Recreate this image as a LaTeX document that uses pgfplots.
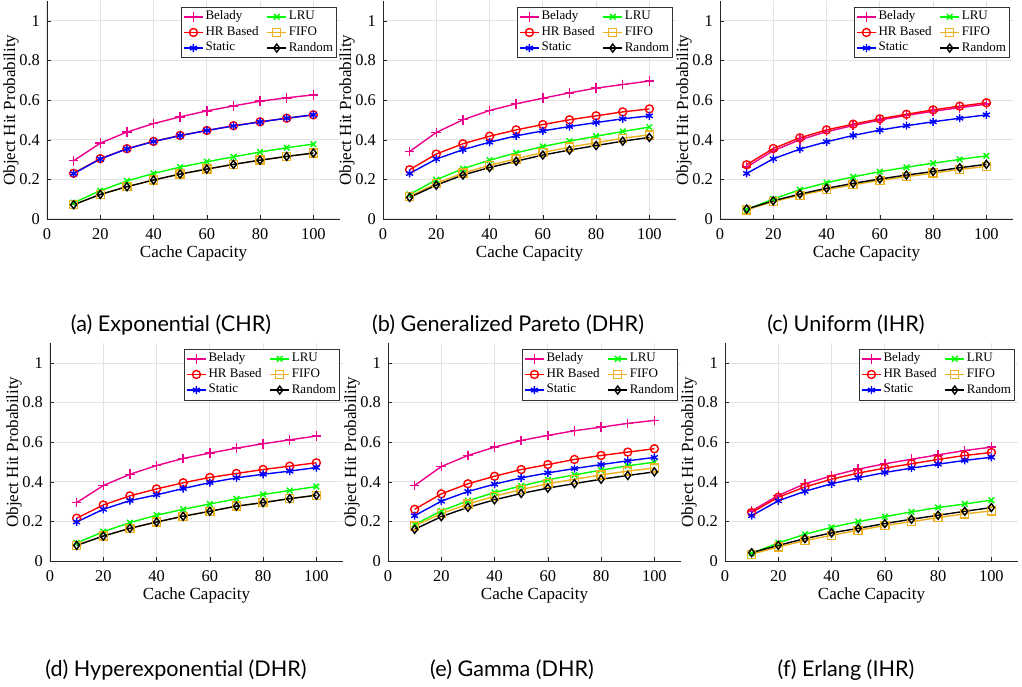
\documentclass[border=0pt]{standalone}
\usepackage{pgfplots}
\usepackage{pgfplotstable}
\pgfplotsset{compat=1.18}
\usepackage{fontspec}
\setmainfont{Liberation Serif}
\newfontfamily\tickfont{Liberation Serif}
\newfontfamily\capfont{Lato}

\definecolor{mlorange}{rgb}{0.929,0.694,0.125}

% hit probabilities, one table per distribution
\pgfplotstableread{
x bel lru hr fifo sta rnd
10 0.294 0.082 0.231 0.072 0.229 0.072
20 0.383 0.143 0.305 0.124 0.303 0.124
30 0.439 0.192 0.355 0.163 0.354 0.163
40 0.482 0.230 0.392 0.197 0.391 0.197
50 0.516 0.262 0.422 0.227 0.421 0.227
60 0.546 0.289 0.447 0.252 0.447 0.252
70 0.571 0.314 0.471 0.276 0.470 0.276
80 0.595 0.338 0.491 0.297 0.490 0.297
90 0.612 0.360 0.509 0.316 0.509 0.316
100 0.627 0.378 0.526 0.333 0.526 0.333
}\expo
\pgfplotstableread{
x bel lru hr fifo sta rnd
10 0.341 0.124 0.249 0.114 0.230 0.109
20 0.437 0.198 0.328 0.180 0.303 0.171
30 0.501 0.254 0.380 0.232 0.350 0.222
40 0.548 0.297 0.418 0.271 0.388 0.260
50 0.582 0.334 0.450 0.304 0.420 0.292
60 0.610 0.366 0.477 0.336 0.445 0.323
70 0.637 0.393 0.501 0.363 0.467 0.348
80 0.661 0.418 0.521 0.385 0.487 0.371
90 0.679 0.442 0.541 0.408 0.506 0.393
100 0.697 0.464 0.556 0.425 0.521 0.412
}\pareto
\pgfplotstableread{
x bel lru hr fifo sta rnd
10 0.262 0.047 0.274 0.046 0.230 0.050
20 0.345 0.101 0.356 0.088 0.304 0.092
30 0.400 0.148 0.410 0.120 0.353 0.126
40 0.441 0.183 0.450 0.148 0.390 0.155
50 0.472 0.213 0.479 0.173 0.422 0.180
60 0.500 0.239 0.506 0.195 0.449 0.202
70 0.523 0.261 0.529 0.214 0.471 0.222
80 0.544 0.282 0.551 0.232 0.491 0.240
90 0.562 0.301 0.570 0.250 0.509 0.259
100 0.580 0.319 0.587 0.266 0.526 0.276
}\unif
\pgfplotstableread{
x bel lru hr fifo sta rnd
10 0.295 0.091 0.216 0.079 0.197 0.079
20 0.381 0.148 0.283 0.126 0.261 0.126
30 0.438 0.194 0.329 0.165 0.305 0.165
40 0.482 0.231 0.364 0.197 0.334 0.197
50 0.518 0.261 0.395 0.226 0.366 0.226
60 0.545 0.288 0.422 0.251 0.396 0.251
70 0.570 0.314 0.442 0.277 0.420 0.277
80 0.592 0.336 0.462 0.295 0.438 0.295
90 0.612 0.356 0.479 0.315 0.454 0.315
100 0.631 0.376 0.496 0.332 0.472 0.332
}\hyper
\pgfplotstableread{
x bel lru hr fifo sta rnd
10 0.381 0.184 0.261 0.177 0.229 0.160
20 0.477 0.253 0.339 0.239 0.302 0.224
30 0.533 0.304 0.390 0.288 0.351 0.271
40 0.575 0.346 0.428 0.327 0.388 0.309
50 0.609 0.379 0.462 0.361 0.420 0.341
60 0.634 0.410 0.487 0.390 0.445 0.368
70 0.658 0.435 0.513 0.413 0.467 0.391
80 0.676 0.459 0.533 0.435 0.487 0.413
90 0.695 0.481 0.550 0.454 0.506 0.432
100 0.710 0.499 0.567 0.470 0.523 0.450
}\gam
\pgfplotstableread{
x bel lru hr fifo sta rnd
10 0.253 0.039 0.245 0.034 0.229 0.042
20 0.331 0.091 0.322 0.071 0.304 0.079
30 0.390 0.135 0.374 0.103 0.352 0.113
40 0.430 0.170 0.413 0.130 0.390 0.142
50 0.464 0.199 0.444 0.155 0.420 0.165
60 0.491 0.224 0.469 0.179 0.447 0.189
70 0.514 0.248 0.491 0.199 0.469 0.211
80 0.536 0.270 0.513 0.219 0.489 0.231
90 0.558 0.288 0.533 0.238 0.508 0.251
100 0.575 0.307 0.548 0.253 0.524 0.270
}\erl

\pgfplotsset{
  hitax/.style={
    scale only axis, width=146.5pt, height=108.9pt,
    xmin=0, xmax=110, ymin=0, ymax=1.1,
    xtick={0,20,...,100}, ytick={0,0.2,...,1},
    axis x line*=bottom, axis y line*=left, axis line style={-, black!85},
    tick align=inside, major tick length=2pt, tick style={black!85},
    grid=major, major grid style={gray!22, line width=0.5pt},
    /pgf/number format/assume math mode=true,
    xticklabel={\tickfont\pgfmathprintnumber{\tick}},
    yticklabel={\tickfont\pgfmathprintnumber{\tick}},
    tick label style={font=\tickfont\fontsize{8.2}{9}\selectfont},
    xticklabel style={yshift=-1.5pt},
    xlabel={Cache Capacity}, ylabel={Object Hit Probability},
    label style={font=\fontsize{8.5}{9}\selectfont},
    xlabel style={at={(axis description cs:0.5,0)}, anchor=center, yshift=-17pt},
    ylabel style={at={(axis description cs:-0.123,0.5)}, anchor=center},
    legend columns=2, legend cell align=left,
    legend style={at={(0.99,0.975)}, anchor=north east, draw=black!80,
      font=\fontsize{6.5}{7}\selectfont, inner sep=1pt,
      nodes={inner sep=0.9pt},
      /tikz/every even column/.append style={column sep=3pt}},
    legend image code/.code={\draw[mark repeat=2,mark phase=2]
      plot coordinates {(0pt,0pt) (4.8pt,0pt) (9.6pt,0pt)};},
    every axis plot/.append style={line width=0.7pt, mark size=2pt},
  },
  bel/.style={magenta, mark=+, mark size=2.4pt},
  lru/.style={green, mark=x},
  hrb/.style={red, mark=o},
  ffo/.style={mlorange, mark=square},
  sta/.style={blue, mark=asterisk},
  rnd/.style={black, mark=diamond},
}

\newcommand{\sixplots}[1]{%
  \addplot[bel] table[x=x,y=bel]{#1}; \addlegendentry{Belady}
  \addplot[lru] table[x=x,y=lru]{#1}; \addlegendentry{LRU}
  \addplot[hrb] table[x=x,y=hr]{#1}; \addlegendentry{HR Based}
  \addplot[ffo] table[x=x,y=fifo]{#1}; \addlegendentry{FIFO}
  \addplot[sta] table[x=x,y=sta]{#1}; \addlegendentry{Static}
  \addplot[rnd] table[x=x,y=rnd]{#1}; \addlegendentry{Random}
}

\begin{document}
\begin{tikzpicture}
\useasboundingbox (0pt,0pt) rectangle (511pt,343pt);

\begin{axis}[hitax, at={(23.5pt,233.5pt)}, anchor=south west]
\sixplots{\expo}
\end{axis}
\begin{axis}[hitax, at={(191.5pt,233.5pt)}, anchor=south west]
\sixplots{\pareto}
\end{axis}
\begin{axis}[hitax, at={(360pt,233.5pt)}, anchor=south west]
\sixplots{\unif}
\end{axis}
\begin{axis}[hitax, at={(25pt,62.5pt)}, anchor=south west]
\sixplots{\hyper}
\end{axis}
\begin{axis}[hitax, at={(194pt,62.5pt)}, anchor=south west]
\sixplots{\gam}
\end{axis}
\begin{axis}[hitax, at={(362.5pt,62.5pt)}, anchor=south west]
\sixplots{\erl}
\end{axis}

\begin{scope}[every node/.style={anchor=base, inner sep=0pt, font=\capfont\fontsize{10.8}{12}\selectfont}]
\node at (85.5pt,177pt) {(a) Exponential (CHR)};
\node at (254pt,177pt) {(b) Generalized Pareto (DHR)};
\node at (423pt,177pt) {(c) Uniform (IHR)};
\node at (88pt,5pt) {(d) Hyperexponential (DHR)};
\node at (256pt,5pt) {(e) Gamma (DHR)};
\node at (423pt,5pt) {(f) Erlang (IHR)};
\end{scope}
\end{tikzpicture}
\end{document}
